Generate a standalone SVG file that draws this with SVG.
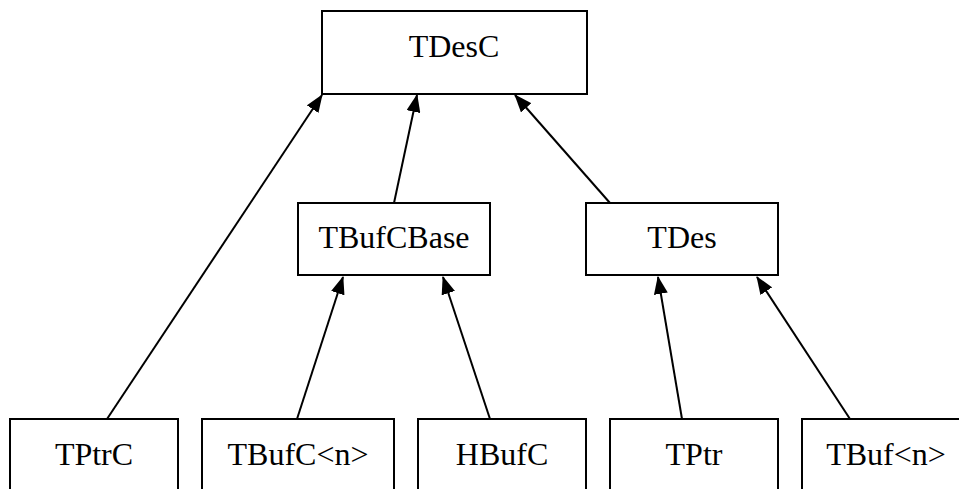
<svg xmlns="http://www.w3.org/2000/svg" width="959" height="489" viewBox="0 0 959 489">
<defs>
<style>
.box{fill:#fff;stroke:#000;stroke-width:2}
.lbl{font-family:'Liberation Serif','Times New Roman',serif;font-size:32px;text-anchor:middle;fill:#000}
.edge{stroke:#000;stroke-width:2;fill:none;marker-end:url(#arr)}
</style>
<marker id="arr" markerUnits="userSpaceOnUse" viewBox="0 0 18 14" refX="17" refY="7" markerWidth="18" markerHeight="14" orient="auto">
<path d="M0,0 L18,7 L0,14 Z" fill="#000"/>
</marker>
</defs>
<rect width="959" height="489" fill="#fff"/>
<g id="connectors">
<line class="edge" x1="107" y1="419" x2="322" y2="95"/>
<line class="edge" x1="394" y1="203" x2="417" y2="95"/>
<line class="edge" x1="610" y1="203" x2="515" y2="95"/>
<line class="edge" x1="297" y1="419" x2="343" y2="277"/>
<line class="edge" x1="490" y1="419" x2="443" y2="277"/>
<line class="edge" x1="682" y1="419" x2="658" y2="277"/>
<line class="edge" x1="850" y1="419" x2="757" y2="277"/>
</g>
<g id="TDesC"><rect class="box" x="322" y="11" width="265" height="83"/><text class="lbl" x="454" y="57">TDesC</text></g>
<g id="TBufCBase"><rect class="box" x="298" y="203" width="192" height="72"/><text class="lbl" x="394" y="248">TBufCBase</text></g>
<g id="TDes"><rect class="box" x="586" y="203" width="192" height="72"/><text class="lbl" x="682" y="248">TDes</text></g>
<g id="TPtrC"><rect class="box" x="10" y="419" width="168" height="90"/><text class="lbl" x="94" y="465">TPtrC</text></g>
<g id="TBufC_n"><rect class="box" x="202" y="419" width="192" height="90"/><text class="lbl" x="298" y="465">TBufC&lt;n&gt;</text></g>
<g id="HBufC"><rect class="box" x="418" y="419" width="168" height="90"/><text class="lbl" x="502" y="465">HBufC</text></g>
<g id="TPtr"><rect class="box" x="610" y="419" width="168" height="90"/><text class="lbl" x="694" y="465">TPtr</text></g>
<g id="TBuf_n"><rect class="box" x="802" y="419" width="168" height="90"/><text class="lbl" x="886" y="465">TBuf&lt;n&gt;</text></g>
</svg>
